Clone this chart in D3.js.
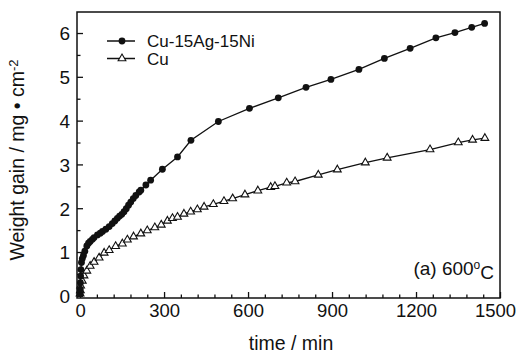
<!DOCTYPE html>
<html>
<head>
<meta charset="utf-8">
<script src="https://cdn.jsdelivr.net/npm/d3@7"></script>
<style>
  body { margin: 0; background: #fff; }
  svg text { font-family: "Liberation Sans", Arial, sans-serif; fill: #111; }
</style>
</head>
<body>
<svg id="chart"></svg>
<script>
var width = 517,
    height = 354;

// weight gain (mg/cm2) vs time (min)
var alloyPoints = [
  [0, 0.05], [0.5, 0.15], [1, 0.3], [2, 0.45], [3, 0.6], [5, 0.76], [8, 0.85], [12, 0.92],
  [17, 1.02], [24, 1.14], [30, 1.2], [36, 1.24], [44, 1.29], [50, 1.33], [62, 1.39],
  [72, 1.43], [80, 1.47], [92, 1.52], [104, 1.58], [115, 1.65], [124, 1.71], [133, 1.77],
  [141, 1.82], [149, 1.86], [157, 1.92], [165, 1.99], [173, 2.07], [181, 2.14], [190, 2.22],
  [199, 2.29], [211, 2.37], [217, 2.41], [235, 2.53], [252, 2.64], [294, 2.89], [348, 3.17],
  [396, 3.55], [494, 3.98], [605, 4.28], [708, 4.52], [807, 4.76], [896, 4.94], [996, 5.17],
  [1087, 5.42], [1179, 5.65], [1271, 5.89], [1339, 6.01], [1399, 6.13], [1445, 6.22]
];

var cuPoints = [
  [0, 0.05], [1, 0.12], [2, 0.23], [8, 0.34], [14, 0.46], [24, 0.57], [36, 0.68], [50, 0.77],
  [68, 0.87], [86, 0.98], [104, 1.04], [127, 1.13], [151, 1.19], [169, 1.28], [191, 1.35],
  [217, 1.42], [240, 1.49], [267, 1.56], [290, 1.62], [312, 1.71], [330, 1.77], [348, 1.8],
  [371, 1.87], [395, 1.92], [419, 1.97], [443, 2.03], [476, 2.09], [514, 2.16], [545, 2.22],
  [589, 2.31], [635, 2.4], [681, 2.48], [696, 2.5], [738, 2.58], [768, 2.61], [851, 2.76],
  [919, 2.88], [1019, 3.04], [1097, 3.15], [1250, 3.34], [1351, 3.5], [1402, 3.56], [1446, 3.6]
];

var seriesNames = ["Cu-15Ag-15Ni", "Cu"];
var xTicks = [0, 300, 600, 900, 1200, 1500],
    yTicks = [0, 1, 2, 3, 4, 5, 6];

var margin = {top: 12, right: 17, bottom: 56, left: 77},
    w = width - margin.left - margin.right,
    h = height - margin.top - margin.bottom;

var svg = d3.select("#chart").attr("width", width).attr("height", height);
var g = svg.append("g").attr("transform", "translate(" + margin.left + "," + margin.top + ")");

var x = d3.scaleLinear().domain([-11, 1500]).range([0, w]);
var y = d3.scaleLinear().domain([-0.05, 6.48]).range([h, 0]);

/**
 * Axes, ticks point inward
 */
var xMinor = d3.range(0, 1501, 60).filter(function(d) { return d % 300 !== 0; });
var yMinor = d3.range(0.5, 6.5, 1);

g.append("g").attr("transform", "translate(0," + h + ")")
    .call(d3.axisBottom(x).tickValues(xMinor).tickSize(-3.5).tickFormat(""));
g.append("g").attr("class", "xaxis").attr("transform", "translate(0," + h + ")")
    .call(d3.axisBottom(x).tickValues(xTicks).tickSize(-6).tickPadding(5).tickFormat(d3.format("d")));

g.append("g")
    .call(d3.axisLeft(y).tickValues(yMinor).tickSize(-3.5).tickFormat(""));
g.append("g").attr("class", "yaxis")
    .call(d3.axisLeft(y).tickValues(yTicks).tickSize(-6).tickPadding(7).tickFormat(d3.format("d")));

g.selectAll(".domain").remove();
g.selectAll(".tick line").attr("stroke", "#111").attr("stroke-width", 1.3);
g.selectAll(".xaxis text").style("font-size", "18.5px").attr("dy", "0.75em")
    .attr("dx", function(d) { return d === 1500 ? -5 : 0; });
g.selectAll(".yaxis text").style("font-size", "19px").attr("dy", "0.36em");

g.append("rect")
    .attr("width", w).attr("height", h)
    .attr("fill", "none").attr("stroke", "#111").attr("stroke-width", 1.5);

/**
 * Series
 */
var line = d3.line()
    .x(function(d) { return x(d[0]); })
    .y(function(d) { return y(d[1]); });

g.append("path").datum(alloyPoints)
    .attr("d", line).attr("fill", "none").attr("stroke", "#111").attr("stroke-width", 1.3);
g.append("path").datum(cuPoints)
    .attr("d", line).attr("fill", "none").attr("stroke", "#111").attr("stroke-width", 1.3);

var tri = d3.symbol().type(d3.symbolTriangle).size(26);

g.selectAll(".cu").data(cuPoints).enter().append("path")
    .attr("class", "cu")
    .attr("d", tri)
    .attr("transform", function(d) { return "translate(" + x(d[0]) + "," + y(d[1]) + ")"; })
    .attr("fill", "#fff").attr("stroke", "#111").attr("stroke-width", 1.1);

g.selectAll(".alloy").data(alloyPoints).enter().append("circle")
    .attr("class", "alloy")
    .attr("cx", function(d) { return x(d[0]); })
    .attr("cy", function(d) { return y(d[1]); })
    .attr("r", 3.4)
    .attr("fill", "#111");

/**
 * Legend
 */
var legend = svg.append("g").attr("transform", "translate(107,41)");
seriesNames.forEach(function(name, i) {
    var row = legend.append("g").attr("transform", "translate(0," + (i * 17.5) + ")");
    row.append("line").attr("x1", 0).attr("x2", 28)
        .attr("stroke", "#111").attr("stroke-width", 1.5);
    if (i === 0) {
        row.append("circle").attr("cx", 15).attr("r", 3.4).attr("fill", "#111");
    } else {
        row.append("path").attr("d", tri).attr("transform", "translate(15,0)")
            .attr("fill", "#fff").attr("stroke", "#111").attr("stroke-width", 1.1);
    }
    row.append("text").attr("x", 40).attr("dy", "0.36em")
        .style("font-size", "17px").text(name);
});

/**
 * Titles
 */
svg.append("text")
    .attr("x", 291).attr("y", 350)
    .attr("text-anchor", "middle")
    .style("font-size", "19.5px")
    .text("time / min");

var yTitle = svg.append("text")
    .attr("transform", "translate(24,160) rotate(-90)")
    .attr("text-anchor", "middle")
    .style("font-size", "19.5px");
yTitle.append("tspan").text("Weight gain / mg \u2022 cm");
yTitle.append("tspan").attr("dy", "-0.45em").style("font-size", "13px").text("-2");

var note = svg.append("text")
    .attr("x", 494).attr("y", 275)
    .attr("text-anchor", "end")
    .style("font-size", "19px");
note.append("tspan").text("(a) 600");
note.append("tspan").attr("dy", "-0.5em").style("font-size", "12px").text("o");
note.append("tspan").attr("dy", "0.5em").text("C");
</script>
</body>
</html>
